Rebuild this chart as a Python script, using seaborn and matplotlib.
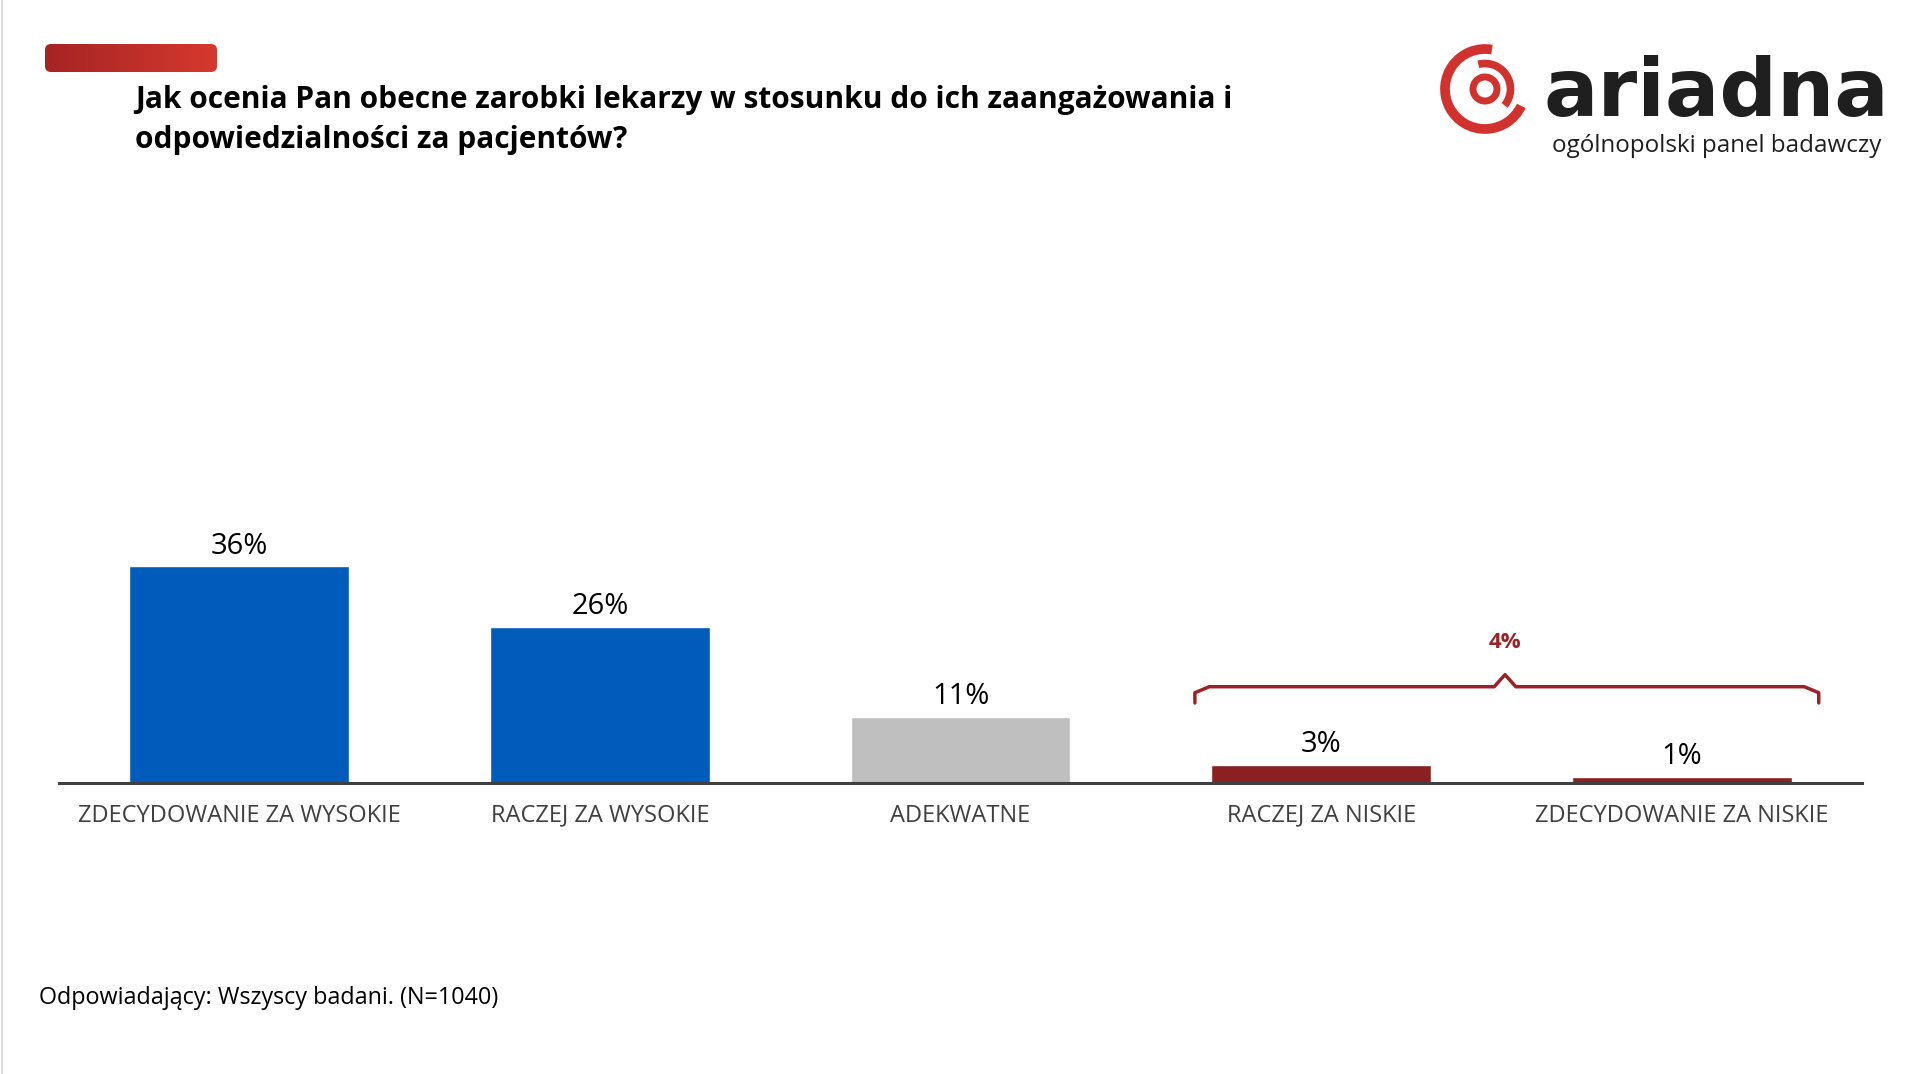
import numpy as np
import pandas as pd
import matplotlib
matplotlib.use("Agg")
import matplotlib.pyplot as plt
import seaborn as sns
from matplotlib.patches import FancyBboxPatch, Arc, Circle
from matplotlib.colors import LinearSegmentedColormap
from matplotlib.lines import Line2D

# ---- data ----
categories = ["ZDECYDOWANIE ZA WYSOKIE", "RACZEJ ZA WYSOKIE", "ADEKWATNE",
              "RACZEJ ZA NISKIE", "ZDECYDOWANIE ZA NISKIE"]
values = [36, 26, 11, 3, 1]
value_labels = ["36%", "26%", "11%", "3%", "1%"]
bar_colors = ["#005BBB", "#005BBB", "#BFBFBF", "#8B2020", "#8B2020"]
group_label = "4%"          # combined share of the two "za niskie" answers
group_members = [3, 4]      # indices of the bracketed categories

title = ("Jak ocenia Pan obecne zarobki lekarzy w stosunku do ich zaangażowania i\n"
         "odpowiedzialności za pacjentów?")
footer = "Odpowiadający: Wszyscy badani. (N=1040)"
logo_name = "ariadna"
logo_sub = "ogólnopolski panel badawczy"

sns.set_theme(style="white")
plt.rcParams["font.family"] = ["Open Sans", "DejaVu Sans"]

W, H = 1919, 1074
fig = plt.figure(figsize=(W / 100, H / 100), dpi=100)
fig.patch.set_facecolor("white")

# main axes
x0, x1 = 59 / W, 1862 / W
ybot = 1 - 783 / H
ax = fig.add_axes([x0, ybot, x1 - x0, 0.75 - ybot])
df = pd.DataFrame({"cat": categories, "val": values})
sns.barplot(data=df, x="cat", y="val", hue="cat", palette=bar_colors,
            width=0.61, legend=False, ax=ax, saturation=1)
ax.set_xlim(-0.5, len(categories) - 0.5)
ax.set_ylim(0, 85.5)
ax.set_xlabel("")
ax.set_ylabel("")
ax.set_yticks([])
for s in ["top", "right", "left"]:
    ax.spines[s].set_visible(False)
ax.spines["bottom"].set_color("#404040")
ax.spines["bottom"].set_linewidth(2.2)
ax.set_xticks(range(len(categories)))
ax.set_xticklabels(categories, fontsize=17, color="#404040")
ax.tick_params(axis="x", which="major", length=0, pad=15)
ax.set_xticks(np.arange(-0.5, len(categories), 1.0), minor=True)
ax.tick_params(axis="x", which="minor", length=7, width=2.2, color="#404040",
               direction="out")

for i, (v, lab) in enumerate(zip(values, value_labels)):
    ax.annotate(lab, xy=(i, v), xytext=(0, 14.5), textcoords="offset points",
                ha="center", va="center", fontsize=21, color="black")

# bracket over grouped bars
bc = "#9B2226"
gl, gr = group_members[0] - 0.35, group_members[-1] + 0.38
gm = (group_members[0] + group_members[-1]) / 2 + 0.01
ytop = max(values[i] for i in group_members) + 13.0
yend = ytop - 2.7
ypk = ytop + 2.0
r = 0.04
xs = [gl, gl, gl + r, gm - 0.03, gm, gm + 0.03, gr - r, gr, gr]
ys = [yend, ytop - 1.0, ytop, ytop, ypk, ytop, ytop, ytop - 1.0, yend]
ax.plot(xs, ys, color=bc, lw=2.5, solid_joinstyle="round", solid_capstyle="round",
        clip_on=False)
ax.text(gm, ypk + 5.3, group_label, ha="center", va="center", fontsize=16,
        fontweight="bold", color=bc)

# title, footer
fig.text(135 / W, 1 - 85 / H, title, ha="left", va="top", fontsize=21.5,
         fontweight="bold", color="black", linespacing=1.45)
fig.text(39 / W, 1 - 998 / H, footer, ha="left", va="center", fontsize=16.8,
         color="black")

# red pill with gradient
pax = fig.add_axes([45 / W, 1 - 72 / H, 172 / W, 28 / H])
pax.set_xlim(0, 172)
pax.set_ylim(0, 28)
pax.axis("off")
grad = np.linspace(0, 1, 256).reshape(1, -1)
cmap = LinearSegmentedColormap.from_list("pill", ["#A52424", "#D6392E"])
im = pax.imshow(grad, extent=[0, 172, 0, 28], aspect="auto", cmap=cmap)
clip = FancyBboxPatch((0, 0), 172, 28, boxstyle="round,pad=0,rounding_size=6",
                      transform=pax.transData, facecolor="none", edgecolor="none")
pax.add_patch(clip)
im.set_clip_path(clip)

# logo emblem
lax = fig.add_axes([(1485 - 50) / W, 1 - (89 + 50) / H, 100 / W, 100 / H])
lax.set_xlim(-50, 50)
lax.set_ylim(-50, 50)
lax.set_aspect("equal")
lax.axis("off")
red = "#D2322D"
lax.add_patch(Arc((0, 0), 80, 80, theta1=80, theta2=335, lw=7, color=red))
lax.add_patch(Arc((0, 0), 51, 51, theta1=-40, theta2=105, lw=5.5, color=red))
lax.add_patch(Circle((0, 0), 12, fill=False, lw=5, color=red))
fig.text(1543 / W, 1 - 116 / H, logo_name, ha="left", va="baseline", fontsize=58,
         fontweight="bold", color="#1F1F1F", family=["DejaVu Sans"])
fig.text(1881 / W, 1 - 146 / H, logo_sub, ha="right", va="center", fontsize=17.4,
         color="#1F1F1F")

# thin page border at left
fig.add_artist(Line2D([0.0008, 0.0008], [0, 1], color="#D5D5D5", lw=1.2,
                      transform=fig.transFigure))

fig.savefig("out.png", dpi=100, facecolor="white")
